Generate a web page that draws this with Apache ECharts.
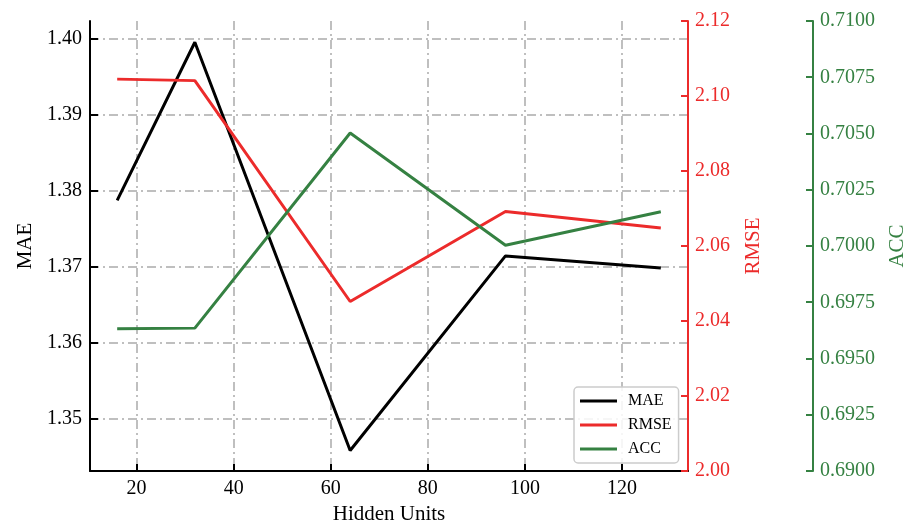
<!DOCTYPE html>
<html>
<head>
<meta charset="utf-8">
<script src="https://cdn.jsdelivr.net/npm/echarts@6/dist/echarts.min.js"></script>
<style>
  html, body { margin: 0; padding: 0; background: #fff; }
  #chart { width: 905px; height: 520px; }
</style>
</head>
<body>
<div id="chart"></div>
<script>
// Hidden Units vs MAE / RMSE / ACC — three y axes
const hiddenUnits = [16, 32, 64, 96, 128];
const maeValues = [1.3787, 1.3995, 1.3458, 1.3714, 1.3698];
const rmseValues = [2.1045, 2.1041, 2.0452, 2.0692, 2.0648];
const accValues = [0.69632, 0.69635, 0.70502, 0.70003, 0.70152];

const xTicks = [20, 40, 60, 80, 100, 120];
const maeTicks = [1.35, 1.36, 1.37, 1.38, 1.39, 1.40];

const FONT = "'Liberation Serif', 'Times New Roman', serif";
const RED = '#ec2b2b';
const GREEN = '#358142';

function pairs(ys) {
  return hiddenUnits.map(function (x, i) { return [x, ys[i]]; });
}

const chart = echarts.init(document.getElementById('chart'));

chart.setOption({
  backgroundColor: '#fff',
  animation: false,
  textStyle: { fontFamily: FONT },
  grid: { left: 90, right: 217, top: 21, bottom: 49, outerBoundsMode: 'none', containLabel: false },

  legend: {
    orient: 'vertical',
    left: 574,
    top: 387,
    padding: [6, 7, 6, 6],
    itemGap: 8,
    itemWidth: 37,
    itemHeight: 3,
    icon: 'rect',
    borderColor: '#cccccc',
    borderWidth: 1.5,
    borderRadius: 4,
    backgroundColor: 'rgba(255,255,255,0.85)',
    textStyle: { fontFamily: FONT, fontSize: 16, color: '#000', padding: [0, 0, 0, 6] },
    data: ['MAE', 'RMSE', 'ACC']
  },

  xAxis: {
    type: 'value',
    min: 10.4,
    max: 133.6,
    name: 'Hidden Units',
    nameLocation: 'middle',
    nameGap: 29,
    nameTextStyle: { fontFamily: FONT, fontSize: 21, color: '#000' },
    axisLine: { onZero: false, lineStyle: { color: '#000', width: 2 } },
    axisTick: { inside: true, length: 7, customValues: xTicks, lineStyle: { color: '#000', width: 2 } },
    axisLabel: { customValues: xTicks, fontFamily: FONT, fontSize: 20, color: '#000', margin: 8 },
    splitLine: { show: true, lineStyle: { color: '#aaaaaa', width: 1.5, type: [9, 4, 2, 4] } }
  },

  yAxis: [
    {
      // MAE — 左轴
      type: 'value',
      position: 'left',
      min: 1.3431,
      max: 1.4023,
      name: 'MAE',
      nameLocation: 'middle',
      nameRotate: 90,
      nameGap: 53,
      nameTextStyle: { fontFamily: FONT, fontSize: 21, color: '#000' },
      axisLine: { show: true, onZero: false, lineStyle: { color: '#000', width: 2 } },
      axisTick: { show: true, inside: true, length: 8, customValues: maeTicks, lineStyle: { color: '#000', width: 2 } },
      axisLabel: {
        customValues: maeTicks, fontFamily: FONT, fontSize: 20, color: '#000', margin: 8,
        formatter: function (v) { return v.toFixed(2); }
      },
      splitLine: { show: true, lineStyle: { color: '#aaaaaa', width: 1.5, type: [9, 4, 2, 4] } }
    },
    {
      // RMSE — 右轴
      type: 'value',
      position: 'right',
      min: 2.00,
      max: 2.12,
      interval: 0.02,
      name: 'RMSE',
      nameLocation: 'middle',
      nameRotate: 90,
      nameGap: 55,
      nameTextStyle: { fontFamily: FONT, fontSize: 21, color: RED },
      axisLine: { show: true, onZero: false, lineStyle: { color: RED, width: 2 } },
      axisTick: { show: true, inside: true, length: 7, lineStyle: { color: RED, width: 2 } },
      axisLabel: {
        fontFamily: FONT, fontSize: 20, color: RED, margin: 7,
        formatter: function (v) { return v.toFixed(2); }
      },
      splitLine: { show: false }
    },
    {
      // ACC — 外侧右轴
      type: 'value',
      position: 'right',
      offset: 125,
      min: 0.69,
      max: 0.71,
      interval: 0.0025,
      name: 'ACC',
      nameLocation: 'middle',
      nameRotate: 90,
      nameGap: 74,
      nameTextStyle: { fontFamily: FONT, fontSize: 21, color: GREEN },
      axisLine: { show: true, onZero: false, lineStyle: { color: GREEN, width: 2 } },
      axisTick: { show: true, inside: true, length: 7, lineStyle: { color: GREEN, width: 2 } },
      axisLabel: {
        fontFamily: FONT, fontSize: 20, color: GREEN, margin: 7,
        formatter: function (v) { return v.toFixed(4); }
      },
      splitLine: { show: false }
    }
  ],

  series: [
    {
      name: 'MAE', type: 'line', yAxisIndex: 0,
      data: pairs(maeValues),
      symbol: 'none', color: '#000',
      lineStyle: { width: 3, color: '#000' }
    },
    {
      name: 'RMSE', type: 'line', yAxisIndex: 1,
      data: pairs(rmseValues),
      symbol: 'none', color: RED,
      lineStyle: { width: 3, color: RED }
    },
    {
      name: 'ACC', type: 'line', yAxisIndex: 2,
      data: pairs(accValues),
      symbol: 'none', color: GREEN,
      lineStyle: { width: 3, color: GREEN }
    }
  ]
});
</script>
</body>
</html>
